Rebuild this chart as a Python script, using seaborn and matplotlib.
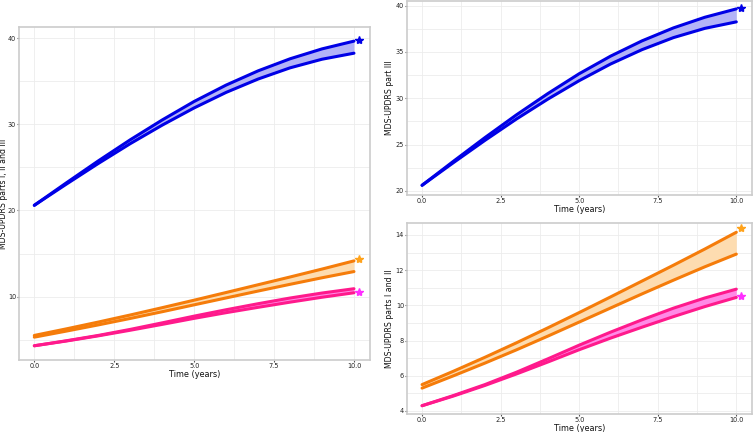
import numpy as np
import pandas as pd
import matplotlib
matplotlib.use("Agg")
import matplotlib.pyplot as plt
import seaborn as sns
from matplotlib.ticker import MultipleLocator

years = [0, 1, 2, 3, 4, 5, 6, 7, 8, 9, 10]

# part III (blue)
p3_upper = [20.6, 23.2, 25.75, 28.2, 30.5, 32.65, 34.55, 36.2, 37.6, 38.75, 39.65]
p3_lower = [20.6, 23.05, 25.45, 27.75, 29.9, 31.9, 33.7, 35.25, 36.55, 37.55, 38.25]
# parts I and II (orange)
p12a_upper = [5.5, 6.26, 7.05, 7.87, 8.72, 9.59, 10.48, 11.38, 12.28, 13.2, 14.15]
p12a_lower = [5.3, 6.0, 6.72, 7.47, 8.25, 9.05, 9.85, 10.65, 11.43, 12.19, 12.91]
# parts I and II (pink)
p12b_upper = [4.3, 4.88, 5.5, 6.2, 6.96, 7.74, 8.48, 9.18, 9.84, 10.42, 10.92]
p12b_lower = [4.3, 4.85, 5.45, 6.1, 6.78, 7.48, 8.14, 8.76, 9.36, 9.93, 10.45]

star_x = 10.15
star_blue = 39.8
star_orange = 14.38
star_pink = 10.53

blue = "#0000e6"
blue_fill = "#b3b3f7"
orange = "#f57c0a"
orange_fill = "#fddcb0"
orange_star = "#ffa21a"
pink = "#ff1a8c"
pink_fill = "#ff8ae6"
pink_star = "#ff2eff"

sns.set_style("whitegrid")
plt.rcParams['font.family'] = ['DejaVu Sans']

fig = plt.figure(figsize=(7.53, 4.32), dpi=100)
axL = fig.add_axes([0.0252, 0.1667, 0.4661, 0.771])
axTR = fig.add_axes([0.5405, 0.5486, 0.4582, 0.449])
axBR = fig.add_axes([0.5405, 0.0417, 0.4582, 0.4414])


def band(ax, up, lo, col, fill):
    df = pd.DataFrame({"t": years, "up": up, "lo": lo})
    ax.fill_between(df["t"], df["lo"], df["up"], color=fill, lw=0)
    sns.lineplot(data=df, x="t", y="up", ax=ax, color=col, lw=2.2)
    sns.lineplot(data=df, x="t", y="lo", ax=ax, color=col, lw=2.2)


def style(ax, ylabel, ylim, ymaj, ymin, yl_x):
    ax.set_xlim(-0.48, 10.5)
    ax.set_ylim(*ylim)
    ax.xaxis.set_major_locator(MultipleLocator(2.5))
    ax.xaxis.set_minor_locator(MultipleLocator(1.25))
    ax.yaxis.set_major_locator(MultipleLocator(ymaj))
    ax.yaxis.set_minor_locator(MultipleLocator(ymin))
    ax.grid(which="both", color="#ececec", lw=0.6)
    ax.set_xlabel("Time (years)", fontsize=5.9, labelpad=0.5, color="#111111")
    ax.set_ylabel(ylabel, fontsize=5.6, color="#111111")
    ax.yaxis.set_label_coords(yl_x, 0.5)
    ax.tick_params(axis="both", which="major", labelsize=4.7, length=1.5, pad=0.7,
                   left=True, bottom=True, color="#555555", labelcolor="#222222")
    for s in ax.spines.values():
        s.set_color("#cccccc")
        s.set_linewidth(1.2)


# left panel: all
band(axL, p3_upper, p3_lower, blue, blue_fill)
band(axL, p12a_upper, p12a_lower, orange, orange_fill)
band(axL, p12b_upper, p12b_lower, pink, pink_fill)
axL.plot([star_x], [star_blue], marker="*", color=blue, ms=6, ls="none")
axL.plot([star_x], [star_orange], marker="*", color=orange_star, ms=6, ls="none")
axL.plot([star_x], [star_pink], marker="*", color=pink_star, ms=6, ls="none")
style(axL, "MDS-UPDRS parts I, II and III", (2.65, 41.3), 10, 5, -0.031)

# top right: part III
band(axTR, p3_upper, p3_lower, blue, blue_fill)
axTR.plot([star_x], [star_blue], marker="*", color=blue, ms=6, ls="none")
style(axTR, "MDS-UPDRS part III", (19.55, 40.5), 5, 2.5, -0.037)

# bottom right: parts I and II
band(axBR, p12a_upper, p12a_lower, orange, orange_fill)
band(axBR, p12b_upper, p12b_lower, pink, pink_fill)
axBR.plot([star_x], [star_orange], marker="*", color=orange_star, ms=6, ls="none")
axBR.plot([star_x], [star_pink], marker="*", color=pink_star, ms=6, ls="none")
style(axBR, "MDS-UPDRS parts I and II", (3.83, 14.66), 2, 1, -0.037)

fig.savefig("out.png", dpi=100)
